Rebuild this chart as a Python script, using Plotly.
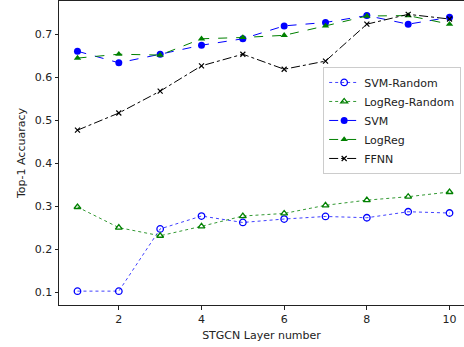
import plotly.graph_objects as go

layers = [1, 2, 3, 4, 5, 6, 7, 8, 9, 10]
svm_random = [0.102, 0.102, 0.247, 0.277, 0.262, 0.270, 0.276, 0.273, 0.287, 0.284]
logreg_random = [0.298, 0.250, 0.231, 0.253, 0.277, 0.283, 0.302, 0.314, 0.322, 0.333]
svm = [0.661, 0.634, 0.654, 0.675, 0.690, 0.720, 0.728, 0.744, 0.724, 0.740]
logreg = [0.645, 0.654, 0.652, 0.690, 0.693, 0.698, 0.720, 0.743, 0.744, 0.724]
ffnn = [0.477, 0.517, 0.568, 0.627, 0.654, 0.619, 0.638, 0.724, 0.747, 0.736]

x_ticks = [2, 4, 6, 8, 10]
y_ticks = [0.1, 0.2, 0.3, 0.4, 0.5, 0.6, 0.7]

fig = go.Figure()
fig.add_trace(go.Scatter(x=layers, y=svm_random, name="SVM-Random", mode="lines+markers",
                         line=dict(color="rgba(0,0,255,0.75)", width=1, dash="dot"),
                         marker=dict(symbol="circle-open", size=6.5, color="#0000ff", line=dict(width=1.3))))
fig.add_trace(go.Scatter(x=layers, y=logreg_random, name="LogReg-Random", mode="lines+markers",
                         line=dict(color="rgba(0,128,0,0.8)", width=1, dash="dot"),
                         marker=dict(symbol="triangle-up-open", size=6, color="#008000", line=dict(width=1.3))))
fig.add_trace(go.Scatter(x=layers, y=svm, name="SVM", mode="lines+markers",
                         line=dict(color="#0000ff", width=1, dash="dash"),
                         marker=dict(symbol="circle", size=7, color="#0000ff")))
fig.add_trace(go.Scatter(x=layers, y=logreg, name="LogReg", mode="lines+markers",
                         line=dict(color="#008000", width=1, dash="dash"),
                         marker=dict(symbol="triangle-up", size=6.5, color="#008000")))
fig.add_trace(go.Scatter(x=layers, y=ffnn, name="FFNN", mode="lines+markers",
                         line=dict(color="#000000", width=1, dash="dashdot"),
                         marker=dict(symbol="x-thin", size=5, color="#000000", line=dict(width=1.2, color="#000000"))))

axis_common = dict(showgrid=False, zeroline=False, showline=True, linecolor="#222", linewidth=1,
                   ticks="outside", ticklen=3.5, tickwidth=1, tickcolor="#222",
                   tickfont=dict(family="DejaVu Sans", size=11, color="#222"))

fig.update_layout(
    width=464, height=347,
    margin=dict(l=59, r=0, t=1, b=42),
    paper_bgcolor="white", plot_bgcolor="white",
    font=dict(family="DejaVu Sans", size=11, color="#222"),
    xaxis=dict(range=[0.553, 10.35], tickvals=x_ticks, mirror=True,
               title=dict(text="STGCN Layer number", font=dict(size=11), standoff=6), **axis_common),
    yaxis=dict(range=[0.0697, 0.778], tickvals=y_ticks, tickformat=".1f",
               title=dict(text="Top-1 Accuaracy", font=dict(size=11), standoff=6), **axis_common),
    legend=dict(x=0.993, y=0.783, xanchor="right", yanchor="top",
                bgcolor="rgba(255,255,255,0.85)", bordercolor="#cccccc", borderwidth=1,
                font=dict(size=11), tracegroupgap=0, itemwidth=30),
    showlegend=True,
)

fig.write_html("out.html")
